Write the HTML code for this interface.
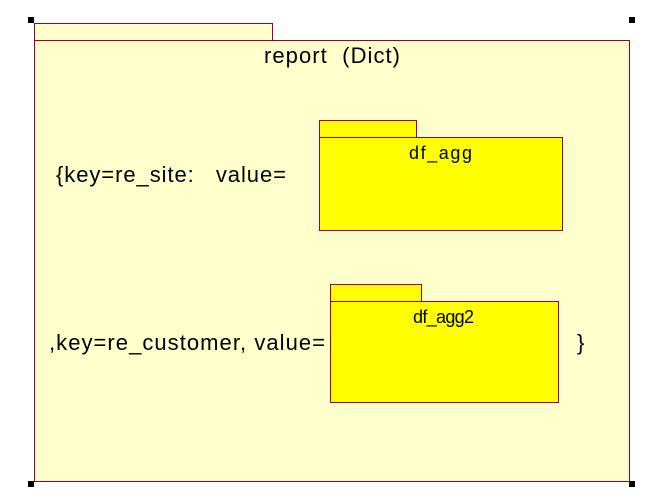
<!DOCTYPE html>
<html><head><style>html,body{margin:0;padding:0;background:#fff}svg{display:block}</style></head>
<body>
<svg width="646" height="500" xmlns="http://www.w3.org/2000/svg" font-family="Liberation Sans, Arial, sans-serif">
<rect x="34.5" y="23.5" width="238" height="17" fill="#ffffcc" stroke="#990033"/>
<rect x="34.5" y="40.5" width="595" height="441" fill="#ffffcc" stroke="#990033"/>
<rect x="28" y="17" width="6" height="6" fill="#000"/>
<rect x="629" y="17" width="6" height="6" fill="#000"/>
<rect x="28" y="481" width="6" height="6" fill="#000"/>
<rect x="629" y="481" width="6" height="6" fill="#000"/>
<text x="264" y="63" font-size="22" xml:space="preserve" textLength="136">report  (Dict)</text>
<text x="56" y="182" font-size="22" xml:space="preserve" textLength="230">{key=re_site:   value=</text>
<text x="49" y="350" font-size="22" xml:space="preserve" textLength="276">,key=re_customer, value=</text>
<text x="577" y="350" font-size="22">}</text>
<rect x="319.5" y="120.5" width="97" height="17" fill="#ffff00" stroke="#990033"/>
<rect x="319.5" y="137.5" width="243" height="93" fill="#ffff00" stroke="#990033"/>
<text x="409" y="159" font-size="18" textLength="63">df_agg</text>
<rect x="330.5" y="284.5" width="91" height="17" fill="#ffff00" stroke="#990033"/>
<rect x="330.5" y="301.5" width="228" height="101" fill="#ffff00" stroke="#990033"/>
<text x="413" y="323" font-size="18" textLength="61">df_agg2</text>
</svg>
</body></html>
